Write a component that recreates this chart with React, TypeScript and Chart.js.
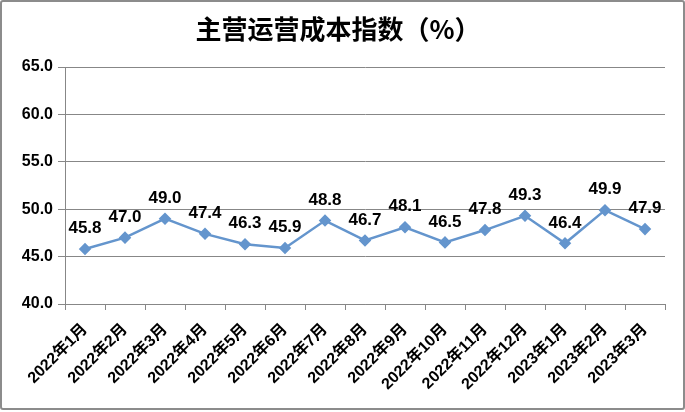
import React, { useEffect, useRef } from "react";
import { Chart, registerables } from "chart.js";

Chart.register(...registerables);

const titleText = "主营运营成本指数（%）";
const categories = [
  "2022年1月", "2022年2月", "2022年3月", "2022年4月", "2022年5月",
  "2022年6月", "2022年7月", "2022年8月", "2022年9月", "2022年10月",
  "2022年11月", "2022年12月", "2023年1月", "2023年2月", "2023年3月",
];
const values = [45.8, 47.0, 49.0, 47.4, 46.3, 45.9, 48.8, 46.7, 48.1, 46.5, 47.8, 49.3, 46.4, 49.9, 47.9];
const yMin = 40;
const yMax = 65;
const yStep = 5;

const FONT = '"Liberation Sans", Arial, "Noto Sans CJK SC", sans-serif';
const LINE_COLOR = "#6495cd";

export default function App() {
  const ref = useRef<HTMLCanvasElement | null>(null);

  useEffect(() => {
    document.body.style.margin = "0";
    const canvas = ref.current;
    if (!canvas) return;

    const labelPlugin = {
      id: "pointLabels",
      afterDatasetsDraw(chart: any) {
        const ctx = chart.ctx;
        const meta = chart.getDatasetMeta(0);
        ctx.save();
        ctx.font = `bold 17px ${FONT}`;
        ctx.fillStyle = "#000";
        ctx.textAlign = "center";
        ctx.textBaseline = "bottom";
        meta.data.forEach((pt: any, i: number) => {
          ctx.fillText(values[i].toFixed(1), pt.x, pt.y - 12);
        });
        ctx.restore();
      },
    };

    const titlePlugin = {
      id: "customTitle",
      afterDraw(chart: any) {
        const ctx = chart.ctx;
        ctx.save();
        ctx.font = `bold 26px "Noto Sans CJK SC", sans-serif`;
        ctx.fillStyle = "#000";
        ctx.textAlign = "center";
        ctx.textBaseline = "middle";
        ctx.fillText(titleText, 338, 29);
        ctx.restore();
      },
    };

    const chart = new Chart(canvas, {
      type: "line",
      data: {
        labels: categories,
        datasets: [
          {
            data: values,
            borderColor: LINE_COLOR,
            backgroundColor: LINE_COLOR,
            borderWidth: 2.5,
            pointStyle: "rectRot",
            pointRadius: 4.5,
            pointBackgroundColor: LINE_COLOR,
            pointBorderColor: LINE_COLOR,
            tension: 0,
          },
        ],
      },
      options: {
        animation: false,
        responsive: false,
        devicePixelRatio: 1,
        layout: { padding: { top: 67, left: 0, right: 20, bottom: 0 } },
        plugins: {
          legend: { display: false },
          title: { display: false },
          tooltip: { enabled: false },
        },
        scales: {
          x: {
            offset: true,
            grid: {
              display: true,
              offset: true,
              drawOnChartArea: false,
              drawTicks: true,
              tickLength: 6,
              color: "#878787",
            },
            border: { display: true, color: "#878787" },
            ticks: {
              autoSkip: false,
              maxRotation: 45,
              minRotation: 45,
              color: "#000",
              padding: 10,
              font: { family: FONT, size: 16, weight: "bold" },
            },
            afterFit(scale: any) {
              scale.height = 108;
            },
          },
          y: {
            min: yMin,
            max: yMax,
            grid: { color: "#878787", tickLength: 7 },
            border: { display: true, color: "#878787" },
            ticks: {
              stepSize: yStep,
              color: "#000",
              padding: 5,
              font: { family: FONT, size: 16, weight: "bold" },
              callback: (v: any) => Number(v).toFixed(1),
            },
            afterFit(scale: any) {
              scale.width = 65;
            },
          },
        },
      },
      plugins: [labelPlugin, titlePlugin],
    });

    return () => chart.destroy();
  }, []);

  return (
    <div style={{ position: "relative", width: 685, height: 412 }}>
      <div
        style={{
          position: "absolute",
          left: 0,
          top: 0,
          width: 685,
          height: 410,
          boxSizing: "border-box",
          border: "2px solid #8c8c8c",
          borderRadius: 3,
          background: "#fff",
        }}
      />
      <canvas ref={ref} width={685} height={412} style={{ position: "absolute", left: 0, top: 0, width: 685, height: 412 }} />
    </div>
  );
}
